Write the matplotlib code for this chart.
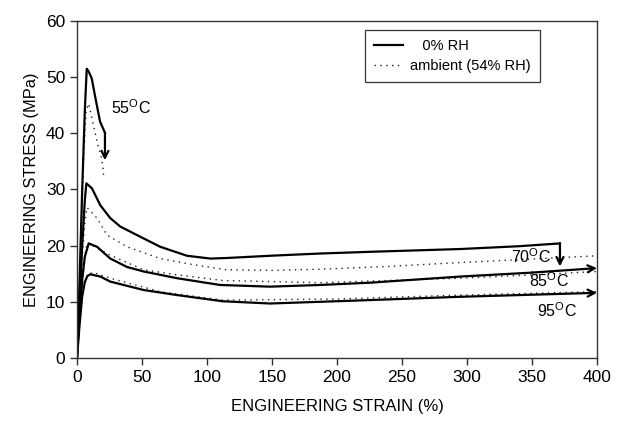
import matplotlib
matplotlib.use('Agg')
from matplotlib import pyplot as plt

plt.rcParams['font.family'] = ['Liberation Sans', 'DejaVu Sans']
plt.rcParams['mathtext.fontset'] = 'custom'
plt.rcParams['mathtext.rm'] = 'Liberation Sans'

# stress-strain curves, strain in %, stress in MPa
# 0% RH (solid)
strain_55 = [0, 2, 4, 6, 7.5, 9, 11.3, 14, 17.7, 21.5, 21.5]
stress_55 = [0, 14, 30, 44, 51.5, 51, 49.8, 46.5, 42.1, 40.1, 35.2]
strain_70 = [0, 2, 4, 6, 7.2, 11.5, 17.9, 25.6, 33.3, 46, 64, 84.6, 102.6, 115, 148.5, 187, 225, 295, 340, 371.5, 371.5]
stress_70 = [0, 10, 20, 28, 31.1, 30.2, 27.2, 24.9, 23.4, 21.9, 19.8, 18.2, 17.7, 17.8, 18.2, 18.6, 18.9, 19.4, 19.9, 20.4, 16.3]
strain_85 = [0, 2, 4, 6, 9, 15.4, 25.6, 38.5, 51.3, 77, 110, 148.5, 187, 225, 295, 350, 400]
stress_85 = [0, 8, 14, 18, 20.4, 19.8, 17.7, 16.2, 15.4, 14.2, 13.0, 12.7, 13.0, 13.4, 14.5, 15.2, 16.0]
strain_95 = [0, 2, 4, 6, 8, 10.3, 17.9, 25.6, 51.3, 77, 112, 148.5, 212, 295, 400]
stress_95 = [0, 6, 11, 13.5, 14.6, 14.9, 14.5, 13.6, 12.1, 11.2, 10.1, 9.7, 10.2, 10.9, 11.6]

# ambient 54% RH (dotted)
strain_55a = [0, 3, 5, 7, 9, 12, 16, 19, 20.2, 20.5]
stress_55a = [0, 20, 35, 44, 45.3, 42, 38, 35.5, 33.5, 32.2]
strain_70a = [0, 2, 4, 6, 7.7, 15.4, 23, 38.5, 64, 89.7, 115, 150, 187, 240, 295, 340, 400]
stress_70a = [0, 9, 18, 24, 26.8, 24.9, 21.9, 19.8, 17.7, 16.6, 15.7, 15.6, 15.8, 16.3, 17.0, 17.5, 18.2]
strain_85a = [0, 2, 4, 6, 7.7, 12, 25.6, 51.3, 77, 112, 187, 240, 295, 350, 400]
stress_85a = [0, 7, 13, 18, 20.5, 20.0, 18.3, 15.7, 14.8, 13.8, 13.4, 13.8, 14.2, 14.8, 15.4]
strain_95a = [0, 2, 4, 6, 9, 12.8, 25.6, 64, 112, 200, 295, 400]
stress_95a = [0, 6, 11, 13.8, 15.0, 15.2, 14.2, 11.8, 10.3, 10.5, 11.2, 11.8]

temp_labels = ['55$^{\\mathrm{O}}$C', '70$^{\\mathrm{O}}$C', '85$^{\\mathrm{O}}$C', '95$^{\\mathrm{O}}$C']
label_pos = [(26, 43.4), (334, 17.0), (348, 12.6), (354, 7.3)]

fig = plt.figure(figsize=(6.17, 4.24), dpi=100)
ax = fig.add_axes([0.1248, 0.1557, 0.8428, 0.7948])

solid_kw = dict(color='black', lw=1.6)
dot_kw = dict(color='#222222', lw=1.0, linestyle=(0, (1, 3.2)))

ax.plot(strain_55a, stress_55a, **dot_kw)
ax.plot(strain_70a, stress_70a, **dot_kw)
ax.plot(strain_85a, stress_85a, **dot_kw)
ax.plot(strain_95a, stress_95a, **dot_kw)

# solid curves; last segment drawn as an arrow
for xs, ys in [(strain_55, stress_55), (strain_70, stress_70),
               (strain_85, stress_85), (strain_95, stress_95)]:
    ax.plot(xs[:-1], ys[:-1], **solid_kw)
    ax.annotate('', xy=(xs[-1], ys[-1]), xytext=(xs[-2], ys[-2]),
                arrowprops=dict(arrowstyle='->,head_length=0.5,head_width=0.25',
                                color='black', lw=1.6, shrinkA=0, shrinkB=0))

for txt, (x, y) in zip(temp_labels, label_pos):
    ax.text(x, y, txt, fontsize=11.5, ha='left', va='baseline')

# legend entries
ax.plot([], [], label='   0% RH', **solid_kw)
ax.plot([], [], label='ambient (54% RH)', **dot_kw)
leg = ax.legend(loc='upper left', bbox_to_anchor=(0.554, 0.973), fontsize=10.5,
                frameon=True, fancybox=False, handlelength=2.0, borderpad=0.6,
                labelspacing=0.45, handletextpad=0.5, borderaxespad=0)
leg.get_frame().set_edgecolor('black')
leg.get_frame().set_linewidth(0.9)

ax.set_xlim(0, 400)
ax.set_ylim(0, 60)
ax.set_xticks(range(0, 401, 50))
ax.set_yticks(range(0, 61, 10))
ax.tick_params(direction='out', length=5, width=1, labelsize=12.5, color='#333333')
for s in ax.spines.values():
    s.set_color('#333333')
    s.set_linewidth(1.0)

ax.set_xlabel('ENGINEERING STRAIN (%)', fontsize=12, labelpad=10)
ax.set_ylabel('ENGINEERING STRESS (MPa)', fontsize=11.8, labelpad=5)

plt.savefig('out.png', dpi=100)
